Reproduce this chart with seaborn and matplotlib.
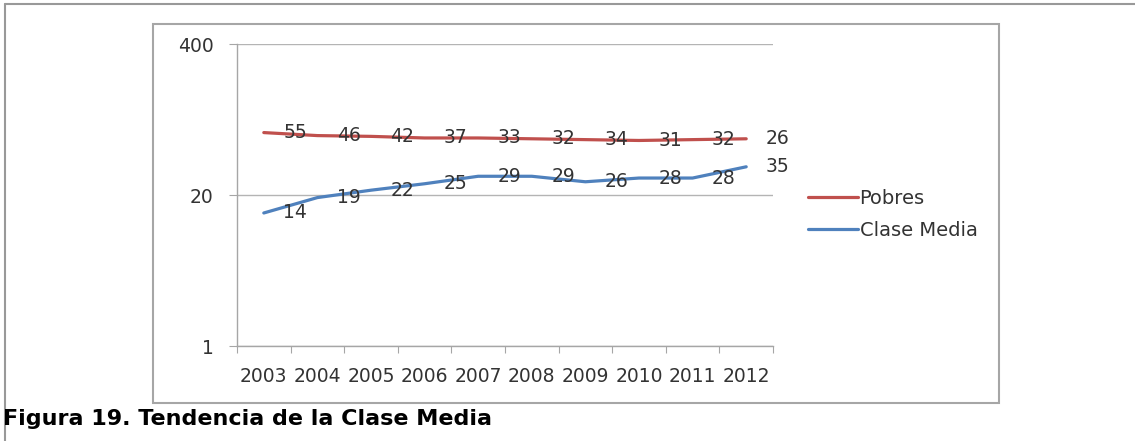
import matplotlib.pyplot as plt
import matplotlib.ticker as mticker
import numpy as np
import pandas as pd
import seaborn as sns
from matplotlib.lines import Line2D
from matplotlib.patches import Rectangle

years = ['2003', '2004', '2005', '2006', '2007', '2008', '2009', '2010', '2011', '2012']
pobres = [55, 46, 42, 37, 33, 32, 34, 31, 32, 26]
clase_media = [14, 19, 22, 25, 29, 29, 26, 28, 28, 35]

sns.set_style('white')
plt.rcParams['font.family'] = ['DejaVu Sans']

# the original is an Excel stacked line chart: Pobres sits on top of Clase Media
pobres_stacked = [p + c for p, c in zip(pobres, clase_media)]

n = len(years)
data = pd.DataFrame({
    'pos': list(range(n)) * 2,
    'valor': pobres_stacked + clase_media,
    'serie': ['Pobres'] * n + ['Clase Media'] * n,
})
colors = {'Pobres': '#C0504D', 'Clase Media': '#4F81BD'}

W, H = 1135, 441
fig = plt.figure(figsize=(W / 100, H / 100), dpi=100)
ax = fig.add_axes([237 / W, 1 - 346 / H, (773 - 237) / W, (346 - 44) / H])

sns.lineplot(data=data, x='pos', y='valor', hue='serie', palette=colors,
             linewidth=2.3, ax=ax, legend=False)

ax.set_yscale('log', base=20)
ax.set_ylim(1, 400)
ax.set_yticks([1, 20, 400])
ax.set_yticklabels(['1', '20', '400'])
ax.yaxis.set_minor_locator(mticker.NullLocator())
ax.set_xlim(-0.5, n - 0.5)
ax.set_xticks(np.arange(-0.5, n, 1))
ax.set_xticklabels([])
ax.set_xticks(range(n), minor=True)
ax.set_xticklabels(years, minor=True)
ax.set_xlabel('')
ax.set_ylabel('')

ax.grid(axis='y', color='#b4b4b4', linewidth=1)
for side in ['top', 'right']:
    ax.spines[side].set_visible(False)
for side in ['left', 'bottom']:
    ax.spines[side].set_color('#a6a6a6')
    ax.spines[side].set_linewidth(1)

ax.tick_params(axis='y', which='major', length=6, color='#a6a6a6', pad=11,
               labelsize=13.5, labelcolor='#333333', left=True)
ax.tick_params(axis='x', which='major', length=5, color='#a6a6a6', bottom=True)
ax.tick_params(axis='x', which='minor', length=0, pad=15,
               labelsize=13.5, labelcolor='#333333')

# data labels on the right of each point, showing the series' own values
for name, ys, labs in [('Pobres', pobres_stacked, pobres), ('Clase Media', clase_media, clase_media)]:
    for i, (y, lab) in enumerate(zip(ys, labs)):
        ax.annotate(str(lab), (i, y), xytext=(14, 0), textcoords='offset points',
                    ha='left', va='center', fontsize=13.5, color='#333333',
                    annotation_clip=False)

handles = [Line2D([], [], color=colors[k], linewidth=2.3) for k in ['Pobres', 'Clase Media']]
fig.legend(handles, ['Pobres', 'Clase Media'], loc='center left',
           bbox_to_anchor=(808 / W, 1 - 214.5 / H), frameon=False,
           handlelength=2.55, handletextpad=0.1, borderpad=0, borderaxespad=0,
           labelspacing=0.65, fontsize=14, labelcolor='#333333')

# chart box and the page frame
fig.add_artist(Rectangle((153 / W, 1 - 403 / H), (999 - 153) / W, (403 - 24) / H,
                         transform=fig.transFigure, fill=False,
                         edgecolor='#a6a6a6', linewidth=1.5))
fig.add_artist(Line2D([5 / W, 5 / W], [0, 1 - 4 / H], transform=fig.transFigure,
                      color='#999999', linewidth=1.5))
fig.add_artist(Line2D([5 / W, 1], [1 - 4 / H, 1 - 4 / H], transform=fig.transFigure,
                      color='#999999', linewidth=1.5))

fig.text(3 / W, 1 - 419 / H, 'Figura 19. Tendencia de la Clase Media',
         fontsize=16, fontweight='bold', va='center', ha='left', color='black')

fig.savefig('out.png', dpi=100)
